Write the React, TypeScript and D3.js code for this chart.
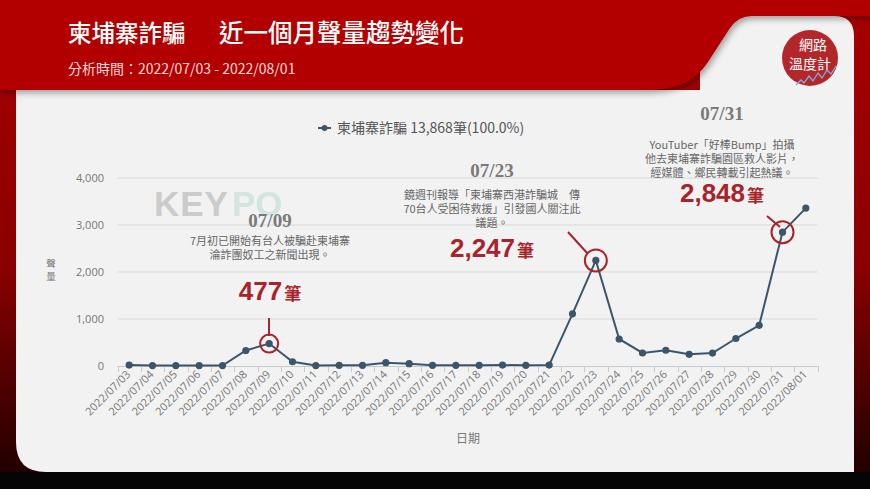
import React from "react";
import * as d3 from "d3";

const dates = [
  "2022/07/03","2022/07/04","2022/07/05","2022/07/06","2022/07/07","2022/07/08","2022/07/09","2022/07/10",
  "2022/07/11","2022/07/12","2022/07/13","2022/07/14","2022/07/15","2022/07/16","2022/07/17","2022/07/18",
  "2022/07/19","2022/07/20","2022/07/21","2022/07/22","2022/07/23","2022/07/24","2022/07/25","2022/07/26",
  "2022/07/27","2022/07/28","2022/07/29","2022/07/30","2022/07/31","2022/08/01",
];
const volumes = [
  20, 10, 10, 10, 10, 330, 477, 90,
  10, 15, 15, 70, 50, 15, 15, 15,
  20, 15, 20, 1110, 2247, 575, 277, 335,
  248, 275, 585, 865, 2848, 3360,
];
const yTicks = [0, 1000, 2000, 3000, 4000];
const legendText = "柬埔寨詐騙 13,868筆(100.0%)";
const titleA = "柬埔寨詐騙";
const titleB = "近一個月聲量趨勢變化";
const subtitle = "分析時間：2022/07/03 - 2022/08/01";

type Note = { idx: number; date: string; lines: string[]; num: string };
const notes: Note[] = [
  { idx: 6, date: "07/09", lines: ["7月初已開始有台人被騙赴柬埔寨", "淪詐團奴工之新聞出現。"], num: "477" },
  { idx: 20, date: "07/23", lines: ["鏡週刊報導「柬埔寨西港詐騙城　傳", "70台人受困待救援」引發國人關注此", "議題。"], num: "2,247" },
  { idx: 28, date: "07/31", lines: ["YouTuber「好棒Bump」拍攝", "他去柬埔寨詐騙園區救人影片，", "經媒體、鄉民轉載引起熱議。"], num: "2,848" },
];

const CJK = "'Noto Sans CJK TC', 'Noto Sans', sans-serif";
const RED = "#b20000";
const ANN = "#a8232a";
const LINE = "#3b566a";

export default function App() {
  const W = 870, H = 489;
  const x = d3.scaleBand<string>().domain(dates).range([117.5, 817.5]);
  const y = d3.scaleLinear().domain([0, 4000]).range([366, 178]);
  const cx = (d: string) => (x(d) as number) + x.bandwidth() / 2;
  const line = d3.line<number>().x((_, i) => cx(dates[i])).y((v) => y(v));

  const noteLayout = [
    { tx: 270, dateY: 227, lineY0: 245, numY: 300, lead: [[269, 318], [269, 336]] },
    { tx: 492, dateY: 177, lineY0: 199, numY: 257, lead: [[568, 232], [588, 254]] },
    { tx: 722, dateY: 120, lineY0: 149, numY: 202, lead: [[767, 216], [780, 227]] },
  ];

  return (
    <svg width={W} height={H} style={{ display: "block", position: "absolute", left: 0, top: 0 }}>
      <defs>
        <linearGradient id="sideL" x1="0" y1="0" x2="0" y2="1">
          <stop offset="0" stopColor="#a80000" />
          <stop offset="0.55" stopColor="#8a0000" />
          <stop offset="1" stopColor="#1a0000" />
        </linearGradient>
        <filter id="shadow" x="-10%" y="-10%" width="130%" height="150%">
          <feDropShadow dx="2" dy="3" stdDeviation="3" floodColor="#000" floodOpacity="0.35" />
        </filter>
      </defs>
      <rect x={0} y={0} width={W} height={H} fill="url(#sideL)" />
      <rect x={0} y={472} width={W} height={17} fill="#050505" />
      <path d="M16,90 V442 Q16,472 46,472 H854 V36 Q854,16 834,16 H700 V90 Z" fill="#f2f2f2" />
      <path
        d="M0,0 H870 V16 H752 Q738,16 730,28 L708,62 Q690,90 648,90 H0 Z"
        fill={RED}
        filter="url(#shadow)"
      />
      <text x={68} y={42} fill="#fff" fontFamily={CJK} fontSize={23.5} fontWeight={500}>{titleA}</text>
      <text x={219} y={42} fill="#fff" fontFamily={CJK} fontSize={24.5} fontWeight={500}>{titleB}</text>
      <text x={68} y={74} fill="#f6d9d9" fontFamily={CJK} fontSize={14}>{subtitle}</text>

      <circle cx={810} cy={58} r={28} fill="#b3272b" />
      <text x={813} y={50} fill="#fff" fontFamily={CJK} fontSize={14} textAnchor="middle">網路</text>
      <text x={810} y={69} fill="#fff" fontFamily={CJK} fontSize={14} textAnchor="middle">溫度計</text>
      <polyline points="796,85 801,80 804,83 809,76 813,81 818,73 822,78 827,70 831,74 836,66" fill="none" stroke="#7eaee0" strokeWidth={1.3} />

      <text x={154} y={216} fontFamily="'Liberation Sans', Arial, sans-serif" fontWeight={700} fontSize={35} fill="#cbcbcb" letterSpacing={1}>KEY</text>
      <text x={232} y={216} fontFamily="'Liberation Sans', Arial, sans-serif" fontWeight={700} fontSize={35} fill="#cfe4dc" opacity={0.9}>PO</text>

      <line x1={318} x2={331} y1={128} y2={128} stroke={LINE} strokeWidth={2} />
      <circle cx={324.5} cy={128} r={3} fill={LINE} />
      <text x={337} y={133} fontFamily={CJK} fontSize={14} fill="#555">{legendText}</text>

      {yTicks.map((t) => (
        <g key={t}>
          {t > 0 && <line x1={117.5} x2={817.5} y1={y(t)} y2={y(t)} stroke="#d9d9d9" strokeWidth={1} />}
          <text x={104} y={y(t) + 4} textAnchor="end" fontFamily="'Open Sans', 'Noto Sans', sans-serif" fontSize={11} fill="#777">
            {d3.format(",")(t)}
          </text>
        </g>
      ))}
      <text x={51} y={267} textAnchor="middle" fontFamily={CJK} fontSize={9.5} fill="#777">
        <tspan x={51} y={267}>聲</tspan>
        <tspan x={51} y={280}>量</tspan>
      </text>

      <line x1={117.5} x2={817.5} y1={366.5} y2={366.5} stroke="#c3cbd3" strokeWidth={1} />
      {[...dates.map((d) => x(d) as number), 817.5].map((tx, i) => (
        <line key={i} x1={Math.round(tx) + 0.5} x2={Math.round(tx) + 0.5} y1={366} y2={372} stroke="#c3cbd3" />
      ))}
      {dates.map((d) => (
        <text
          key={d}
          transform={`translate(${cx(d) + 2},${375}) rotate(-45)`}
          textAnchor="end"
          fontFamily="'Open Sans', 'Noto Sans', sans-serif"
          fontSize={11}
          fill="#777"
        >
          {d}
        </text>
      ))}
      <text x={468} y={443} textAnchor="middle" fontFamily={CJK} fontSize={12} fill="#777">日期</text>

      <path d={line(volumes) || ""} fill="none" stroke={LINE} strokeWidth={2} />
      {volumes.map((v, i) => (
        <circle key={i} cx={cx(dates[i])} cy={y(v)} r={3.6} fill={LINE} />
      ))}

      {notes.map((n, k) => {
        const L = noteLayout[k];
        const px = cx(dates[n.idx]);
        const py = y(volumes[n.idx]);
        return (
          <g key={n.date}>
            <text x={L.tx} y={L.dateY} textAnchor="middle" fontFamily="'Liberation Serif', 'DejaVu Serif', serif" fontWeight={700} fontSize={19} fill="#7a7a7a">
              {n.date}
            </text>
            <text textAnchor="middle" fontFamily={CJK} fontSize={11} fill="#666">
              {n.lines.map((ln, j) => (
                <tspan key={j} x={L.tx} y={L.lineY0 + j * 14}>{ln}</tspan>
              ))}
            </text>
            <text x={L.tx} y={L.numY} textAnchor="middle" fontFamily="'Liberation Sans', Arial, sans-serif" fontWeight={700} fill={ANN}>
              <tspan fontSize={26}>{n.num}</tspan>
              <tspan fontSize={17} fontFamily={CJK} dx={2}>筆</tspan>
            </text>
            <line x1={L.lead[0][0]} y1={L.lead[0][1]} x2={L.lead[1][0]} y2={L.lead[1][1]} stroke={ANN} strokeWidth={2} />
            <circle cx={px} cy={py} r={k === 0 ? 9 : 11} fill="none" stroke={ANN} strokeWidth={2} />
          </g>
        );
      })}
    </svg>
  );
}
